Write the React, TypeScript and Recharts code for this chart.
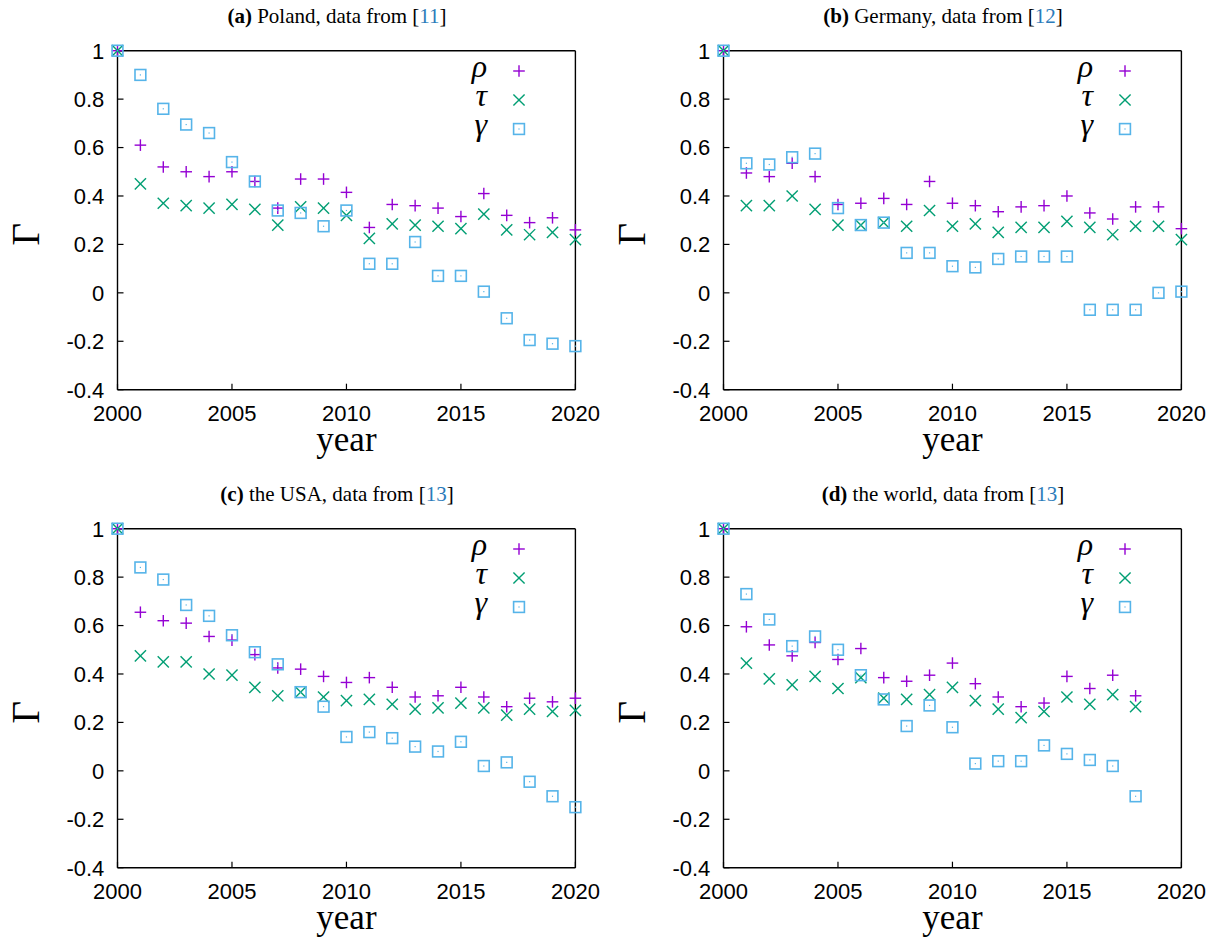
import React from 'react';
import { ScatterChart, Scatter, XAxis, YAxis, Legend } from 'recharts';

// ---------- data ----------
const years = [2000, 2001, 2002, 2003, 2004, 2005, 2006, 2007, 2008, 2009, 2010, 2011, 2012, 2013, 2014, 2015, 2016, 2017, 2018, 2019, 2020];
const xTicks = [2000, 2005, 2010, 2015, 2020];
const yTicks = [-0.4, -0.2, 0, 0.2, 0.4, 0.6, 0.8, 1];
const seriesNames = ['ρ', 'τ', 'γ'];

const rhoA = [1.0, 0.61, 0.52, 0.50, 0.48, 0.50, 0.46, 0.35, 0.47, 0.47, 0.415, 0.27, 0.365, 0.36, 0.35, 0.315, 0.41, 0.32, 0.29, 0.31, 0.26];
const tauA = [1.0, 0.45, 0.37, 0.36, 0.35, 0.365, 0.345, 0.28, 0.355, 0.35, 0.32, 0.225, 0.285, 0.28, 0.275, 0.265, 0.325, 0.26, 0.24, 0.25, 0.22];
const gamA = [1.0, 0.90, 0.76, 0.695, 0.66, 0.54, 0.46, 0.34, 0.33, 0.275, 0.34, 0.12, 0.12, 0.21, 0.07, 0.07, 0.005, -0.105, -0.195, -0.21, -0.22];

const rhoB = [1.0, 0.495, 0.48, 0.535, 0.48, 0.365, 0.37, 0.39, 0.365, 0.46, 0.37, 0.36, 0.335, 0.355, 0.36, 0.40, 0.33, 0.305, 0.355, 0.355, 0.265];
const tauB = [1.0, 0.36, 0.36, 0.40, 0.345, 0.28, 0.28, 0.29, 0.275, 0.34, 0.275, 0.285, 0.25, 0.27, 0.27, 0.295, 0.27, 0.24, 0.275, 0.275, 0.22];
const gamB = [1.0, 0.535, 0.53, 0.56, 0.575, 0.35, 0.28, 0.29, 0.165, 0.165, 0.11, 0.105, 0.14, 0.15, 0.15, 0.15, -0.07, -0.07, -0.07, 0.0, 0.005];

const rhoC = [1.0, 0.655, 0.62, 0.61, 0.555, 0.54, 0.48, 0.425, 0.42, 0.39, 0.365, 0.385, 0.345, 0.305, 0.31, 0.345, 0.305, 0.265, 0.30, 0.285, 0.30];
const tauC = [1.0, 0.475, 0.45, 0.45, 0.40, 0.395, 0.345, 0.31, 0.325, 0.305, 0.29, 0.295, 0.275, 0.255, 0.26, 0.28, 0.26, 0.23, 0.255, 0.245, 0.25];
const gamC = [1.0, 0.84, 0.79, 0.685, 0.64, 0.56, 0.49, 0.44, 0.325, 0.265, 0.14, 0.16, 0.135, 0.10, 0.08, 0.12, 0.02, 0.035, -0.045, -0.105, -0.15];

const rhoD = [1.0, 0.595, 0.52, 0.475, 0.53, 0.46, 0.505, 0.385, 0.37, 0.395, 0.445, 0.36, 0.305, 0.265, 0.28, 0.39, 0.34, 0.395, 0.31];
const tauD = [1.0, 0.445, 0.38, 0.355, 0.39, 0.34, 0.385, 0.30, 0.295, 0.315, 0.345, 0.29, 0.255, 0.22, 0.245, 0.305, 0.275, 0.315, 0.265];
const gamD = [1.0, 0.73, 0.625, 0.515, 0.555, 0.50, 0.395, 0.295, 0.185, 0.27, 0.18, 0.03, 0.04, 0.04, 0.105, 0.07, 0.045, 0.02, -0.105];

// ---------- style ----------
const C_RHO = '#9400d3';
const C_TAU = '#009e73';
const C_GAM = '#56b4e9';
const COLORS = [C_RHO, C_TAU, C_GAM];
const SERIF = '"Liberation Serif", "DejaVu Serif", serif';
const SANS = '"Liberation Sans", Arial, sans-serif';
const W = 606;
const H = 470;

const PlusMark = (p: any) => {
  const { cx, cy, color } = p;
  const s = 5.8;
  return (
    <g stroke={color} strokeWidth={1.4} fill="none">
      <line x1={cx - s} y1={cy} x2={cx + s} y2={cy} />
      <line x1={cx} y1={cy - s} x2={cx} y2={cy + s} />
    </g>
  );
};
const CrossMark = (p: any) => {
  const { cx, cy, color } = p;
  const s = 5.6;
  return (
    <g stroke={color} strokeWidth={1.4} fill="none">
      <line x1={cx - s} y1={cy - s} x2={cx + s} y2={cy + s} />
      <line x1={cx - s} y1={cy + s} x2={cx + s} y2={cy - s} />
    </g>
  );
};
const SquareMark = (p: any) => {
  const { cx, cy, color } = p;
  const s = 5.4;
  return (
    <g>
      <rect x={cx - s} y={cy - s} width={2 * s} height={2 * s} stroke={color} strokeWidth={1.6} fill="none" />
      <rect x={cx - 0.6} y={cy - 0.6} width={1.2} height={1.2} fill={color} />
    </g>
  );
};
const MARKS = [PlusMark, CrossMark, SquareMark];

const LegendBox = () => (
  <svg width={130} height={92} style={{ overflow: 'visible' }}>
    {seriesNames.map((n, i) => {
      const M = MARKS[i];
      const cy = 16 + i * 29;
      return (
        <g key={n}>
          <text x={47} y={cy + 6} textAnchor="end" fontFamily={SERIF} fontStyle="italic" fontSize={32} fill="#000">{n}</text>
          <M cx={79} cy={cy} color={COLORS[i]} />
        </g>
      );
    })}
  </svg>
);

const fmtY = (v: number) => String(Number(v.toFixed(1)));

const YearLabel = (props: any) => {
  const vb = props.viewBox || {};
  return (
    <text x={vb.x + vb.width / 2} y={vb.y + 61} textAnchor="middle" fontFamily={SERIF} fontSize={35} fill="#000">year</text>
  );
};
const GammaLabel = (props: any) => {
  const vb = props.viewBox || {};
  const x = 39;
  const y = vb.y + vb.height / 2 + 14;
  return (
    <text x={x} y={y} textAnchor="middle" transform={`rotate(-90, ${x}, ${y})`} fontFamily={SERIF} fontSize={39} fill="#000">Γ</text>
  );
};

type PanelProps = { left: number; top: number; tag: string; text: string; refNo: string; rho: number[]; tau: number[]; gam: number[] };

const Panel = ({ left, top, tag, text, refNo, rho, tau, gam }: PanelProps) => {
  const series = [rho, tau, gam].map((arr) => arr.map((y, i) => ({ x: years[i], y })));
  return (
    <div style={{ position: 'absolute', left, top, width: W, height: H }}>
      <div style={{ position: 'absolute', left: 37, top: 6, width: 600, textAlign: 'center', fontFamily: SERIF, fontSize: 21, lineHeight: '21px', color: '#000', whiteSpace: 'nowrap' }}>
        <b>{tag}</b> {text} [<span style={{ color: '#2b7bba' }}>{refNo}</span>]
      </div>
      <div style={{ position: 'absolute', left: 0, top: 0 }}>
        <ScatterChart width={W} height={H} margin={{ top: 49.7, right: 29.6, bottom: 20.3, left: 0 }}>
          <XAxis xAxisId="b" type="number" dataKey="x" domain={[2000, 2020]} ticks={xTicks} interval={0}
            height={60} tickSize={-6} tickMargin={21.3}
            axisLine={{ stroke: '#000', strokeWidth: 1.4 }} tickLine={{ stroke: '#000', strokeWidth: 1.2 }}
            tick={{ fontFamily: SANS, fontSize: 22, fill: '#000' }} label={<YearLabel />} />
          <XAxis xAxisId="t" orientation="top" type="number" dataKey="x" domain={[2000, 2020]} height={1}
            tick={false} tickLine={false} axisLine={{ stroke: '#000', strokeWidth: 1.4 }} />
          <YAxis yAxisId="l" type="number" dataKey="y" domain={[-0.4, 1]} ticks={yTicks} interval={0}
            width={117.5} tickSize={-6} tickMargin={19.2} tickFormatter={fmtY}
            axisLine={{ stroke: '#000', strokeWidth: 1.4 }} tickLine={{ stroke: '#000', strokeWidth: 1.2 }}
            tick={{ fontFamily: SANS, fontSize: 22, fill: '#000' }} label={<GammaLabel />} />
          <YAxis yAxisId="r" orientation="right" type="number" dataKey="y" domain={[-0.4, 1]} ticks={yTicks} interval={0}
            width={1} tickSize={-6} tick={false}
            axisLine={{ stroke: '#000', strokeWidth: 1.4 }} tickLine={{ stroke: '#000', strokeWidth: 1.2 }} />
          <Legend layout="vertical" align="center" verticalAlign="middle" content={<LegendBox />}
            wrapperStyle={{ left: 440, top: 55, width: 130, height: 92 }} />
          {series.map((d, i) => {
            const M = MARKS[i];
            return (
              <Scatter key={seriesNames[i]} name={seriesNames[i]} data={d} xAxisId="b" yAxisId="l"
                isAnimationActive={false} fill={COLORS[i]}
                shape={(p: any) => <M cx={p.cx} cy={p.cy} color={COLORS[i]} />} />
            );
          })}
        </ScatterChart>
      </div>
    </div>
  );
}

export default function App() {
  return (
    <div style={{ position: 'absolute', left: 0, top: 0, width: 1212, height: 938, background: '#fff', overflow: 'hidden' }}>
      <Panel left={0} top={0} tag="(a)" text="Poland, data from" refNo="11" rho={rhoA} tau={tauA} gam={gamA} />
      <Panel left={606} top={0} tag="(b)" text="Germany, data from" refNo="12" rho={rhoB} tau={tauB} gam={gamB} />
      <Panel left={0} top={478} tag="(c)" text="the USA, data from" refNo="13" rho={rhoC} tau={tauC} gam={gamC} />
      <Panel left={606} top={478} tag="(d)" text="the world, data from" refNo="13" rho={rhoD} tau={tauD} gam={gamD} />
    </div>
  );
}
